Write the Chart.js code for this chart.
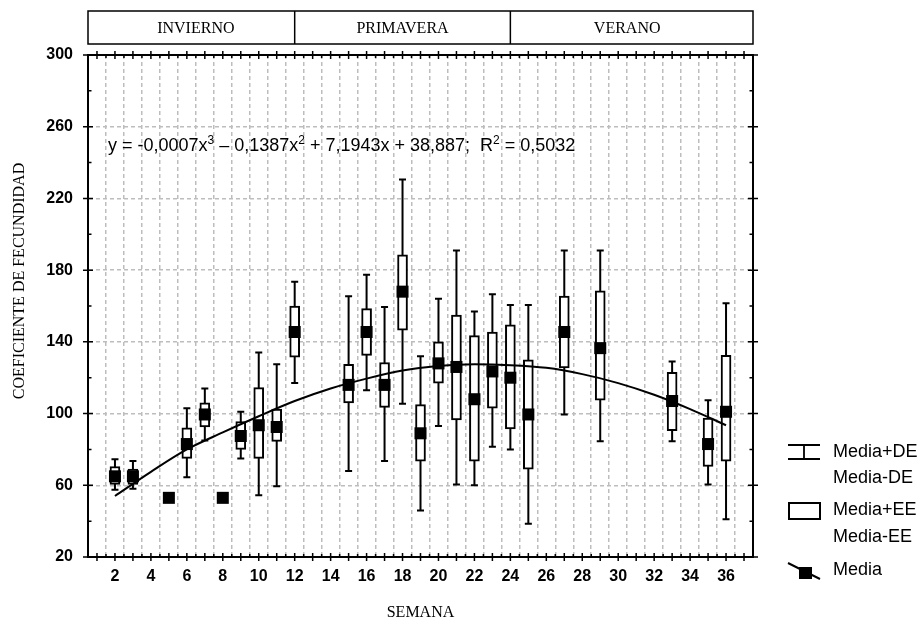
<!DOCTYPE html>
<html>
<head>
<meta charset="utf-8">
<script src="https://cdn.jsdelivr.net/npm/chart.js@4.4.1/dist/chart.umd.min.js"></script>
<style>
  html, body { margin: 0; padding: 0; background: #fff; }
</style>
</head>
<body>
<canvas id="fecChart" width="918" height="628"></canvas>
<script>
// semanas con dato
const weeks = [2, 3, 5, 6, 7, 8, 9, 10, 11, 12, 15, 16, 17, 18, 19, 20, 21, 22, 23, 24, 25, 27, 29, 33, 35, 36];
const means = [65, 65, 53, 83, 99.5, 53, 87.5, 93.5, 92.5, 145.5, 116, 145.5, 116, 168, 89, 128, 126, 108, 123.5, 120, 99.5, 145.5, 136.5, 107, 83, 101];
// Media +/- EE (caja)
const eeHigh = [70.5, 69, null, 92, 106, null, 95.5, 114.5, 102.5, 160, 127.5, 158.5, 128.5, 188.5, 105, 140, 155, 143.5, 145.5, 149.5, 130, 165.5, 168.5, 123, 97.5, 132.5];
const eeLow = [60.5, 60.5, null, 75, 92.5, null, 80, 75, 84.5, 131.5, 106, 132.5, 103.5, 146.5, 73.5, 117, 96.5, 73.5, 103, 91.5, 69, 125.5, 107.5, 90.5, 70.5, 73.5];
// Media +/- DE (bigotes)
const deHigh = [74.5, 73.5, null, 103, 114, null, 101, 134, 127.5, 173.5, 165.5, 177.5, 159.5, 230.5, 132, 164, 191, 157, 166.5, 160.5, 160.5, 191, 191, 129, 107.5, 161.5];
const deLow = [57.5, 58, null, 64.5, 85, null, 75, 54.5, 59.5, 117, 68, 113, 73.5, 105.5, 46, 93, 60.5, 60, 81.5, 80, 38.5, 99.5, 84.5, 84.5, 60.5, 41];
// curva de tendencia
const trendWeeks = [2, 4, 6, 8, 10, 12, 14, 16, 18, 20, 22, 24, 26, 28, 30, 32, 34, 36];
const trendValues = [54, 67.5, 80, 89.5, 98.5, 107, 114, 119.5, 124, 126.5, 127.5, 127, 125.5, 122, 117, 110.5, 102.5, 93.5];

const seasons = ['INVIERNO', 'PRIMAVERA', 'VERANO'];
const seasonBounds = [1, 12, 24, 37];
const legendItems = [['Media+DE', 'Media-DE'], ['Media+EE', 'Media-EE'], ['Media']];

const sansFont = '"Liberation Sans", Arial, sans-serif';
const serifFont = '"Liberation Serif", "Times New Roman", serif';
const gridGrey = '#bdbdbd';

const whiskerPlugin = {
  id: 'whiskers',
  beforeDatasetsDraw(chart) {
    const {ctx, scales: {x, y}} = chart;
    ctx.save();
    ctx.strokeStyle = '#000';
    ctx.lineWidth = 2;
    weeks.forEach((w, i) => {
      if (deHigh[i] == null) return;
      const px = x.getPixelForValue(w);
      const top = y.getPixelForValue(deHigh[i]);
      const bot = y.getPixelForValue(deLow[i]);
      ctx.beginPath();
      ctx.moveTo(px, top); ctx.lineTo(px, bot);
      ctx.moveTo(px - 3.5, top); ctx.lineTo(px + 3.5, top);
      ctx.moveTo(px - 3.5, bot); ctx.lineTo(px + 3.5, bot);
      ctx.stroke();
    });
    ctx.restore();
  }
};

// marcas cruzadas en los cuatro ejes
const axisTicksPlugin = {
  id: 'axisTicks',
  afterDatasetsDraw(chart) {
    const {ctx, chartArea: a, scales: {x, y}} = chart;
    ctx.save();
    ctx.strokeStyle = '#000';
    ctx.lineWidth = 1.5;
    ctx.beginPath();
    for (let w = x.min; w <= x.max; w += 0.5) {
      const px = x.getPixelForValue(w);
      if (Number.isInteger(w)) {
        ctx.moveTo(px, a.top - 4); ctx.lineTo(px, a.top + 4);
        ctx.moveTo(px, a.bottom - 4); ctx.lineTo(px, a.bottom + 4);
      } else {
        ctx.moveTo(px, a.top); ctx.lineTo(px, a.top + 3);
        ctx.moveTo(px, a.bottom); ctx.lineTo(px, a.bottom - 3);
      }
    }
    y.ticks.forEach(t => {
      const py = y.getPixelForValue(t.value);
      if ((t.value - 20) % 40 === 0) {
        ctx.moveTo(a.left - 5, py); ctx.lineTo(a.left + 5, py);
        ctx.moveTo(a.right - 5, py); ctx.lineTo(a.right + 5, py);
      } else {
        ctx.moveTo(a.left, py); ctx.lineTo(a.left + 3.5, py);
        ctx.moveTo(a.right, py); ctx.lineTo(a.right - 3.5, py);
      }
    });
    ctx.stroke();
    ctx.restore();
  }
};

const decorPlugin = {
  id: 'decor',
  afterDraw(chart) {
    const {ctx, chartArea: a, scales: {x}} = chart;
    ctx.save();

    // cabecera de estaciones
    const boxTop = 11, boxBottom = 44;
    ctx.strokeStyle = '#000';
    ctx.lineWidth = 1.5;
    ctx.strokeRect(a.left, boxTop, a.right - a.left, boxBottom - boxTop);
    ctx.fillStyle = '#000';
    ctx.font = '16px ' + serifFont;
    ctx.textAlign = 'center';
    ctx.textBaseline = 'middle';
    seasons.forEach((s, i) => {
      const x0 = x.getPixelForValue(seasonBounds[i]);
      const x1 = x.getPixelForValue(seasonBounds[i + 1]);
      if (i > 0) {
        ctx.beginPath();
        ctx.moveTo(x0, boxTop); ctx.lineTo(x0, boxBottom);
        ctx.stroke();
      }
      ctx.fillText(s, (x0 + x1) / 2, (boxTop + boxBottom) / 2 + 1);
    });

    // titulo eje Y
    ctx.save();
    ctx.translate(20, 281);
    ctx.rotate(-Math.PI / 2);
    ctx.fillText('COEFICIENTE DE FECUNDIDAD', 0, 0);
    ctx.restore();

    // ecuacion
    const parts = [
      ['y = -0,0007x', false], ['3', true], [' \u2013 0,1387x', false], ['2', true],
      [' + 7,1943x + 38,887;  R', false], ['2', true], [' = 0,5032', false]
    ];
    ctx.textAlign = 'left';
    ctx.textBaseline = 'alphabetic';
    let ex = 108;
    const ey = 151;
    parts.forEach(([txt, sup]) => {
      ctx.font = (sup ? '12px ' : '18px ') + sansFont;
      ctx.fillText(txt, ex, sup ? ey - 7 : ey);
      ex += ctx.measureText(txt).width;
    });

    // leyenda
    ctx.lineWidth = 1.8;
    ctx.beginPath();
    ctx.moveTo(788, 445); ctx.lineTo(820, 445);
    ctx.moveTo(788, 459); ctx.lineTo(820, 459);
    ctx.moveTo(804, 445); ctx.lineTo(804, 459);
    ctx.stroke();
    ctx.lineWidth = 2;
    ctx.strokeRect(789, 503, 31, 16);
    ctx.beginPath();
    ctx.moveTo(788, 563); ctx.lineTo(820, 579);
    ctx.stroke();
    ctx.fillRect(799, 567, 13, 12);

    ctx.font = '18px ' + sansFont;
    ctx.textBaseline = 'middle';
    const rows = [[452, 478], [510, 537], [570]];
    legendItems.forEach((lines, i) => {
      lines.forEach((t, j) => ctx.fillText(t, 833, rows[i][j]));
    });
    ctx.restore();
  }
};

new Chart(document.getElementById('fecChart'), {
  type: 'bar',
  data: {
    datasets: [
      {
        type: 'scatter',
        label: 'Media',
        data: weeks.map((w, i) => ({x: w, y: means[i]})),
        pointStyle: 'rect',
        pointRadius: 8.5,
        backgroundColor: '#000',
        borderWidth: 0,
        order: 0
      },
      {
        type: 'line',
        label: 'Tendencia',
        data: trendWeeks.map((w, i) => ({x: w, y: trendValues[i]})),
        borderColor: '#000',
        borderWidth: 2,
        pointRadius: 0,
        cubicInterpolationMode: 'monotone',
        fill: false,
        order: 1
      },
      {
        type: 'bar',
        label: 'Media +/- EE',
        data: weeks.map((w, i) => ({x: w, y: eeHigh[i] == null ? null : [eeLow[i], eeHigh[i]]})),
        backgroundColor: '#fff',
        borderColor: '#000',
        borderWidth: 2,
        borderSkipped: false,
        barThickness: 10,
        order: 2
      }
    ]
  },
  options: {
    responsive: false,
    animation: false,
    events: [],
    layout: { padding: 0 },
    plugins: {
      legend: { display: false },
      tooltip: { enabled: false }
    },
    scales: {
      x: {
        type: 'linear',
        position: 'bottom',
        min: 1,
        max: 37,
        afterFit: s => { s.height = 71; },
        ticks: {
          stepSize: 1,
          autoSkip: false,
          maxRotation: 0,
          padding: 10,
          color: '#000',
          font: { family: sansFont, size: 16, weight: 'bold' },
          callback: v => (v % 2 === 0 && v >= 2 && v <= 36) ? String(v) : ''
        },
        grid: { color: gridGrey, lineWidth: 1.5, drawTicks: false },
        border: { color: '#000', width: 2, dash: [4, 3] },
        title: {
          display: true,
          text: 'SEMANA',
          color: '#000',
          font: { family: serifFont, size: 16 },
          padding: { top: 0, bottom: 6 }
        }
      },
      x2: {
        type: 'linear',
        position: 'top',
        min: 1,
        max: 37,
        afterFit: s => { s.height = 55; },
        ticks: { display: false },
        grid: { drawOnChartArea: false, drawTicks: false },
        border: { color: '#000', width: 2 }
      },
      y: {
        type: 'linear',
        position: 'left',
        min: 20,
        max: 300,
        afterFit: s => { s.width = 88; },
        ticks: {
          stepSize: 20,
          padding: 15,
          color: '#000',
          font: { family: sansFont, size: 16, weight: 'bold' },
          callback: v => ((v - 20) % 40 === 0) ? String(v) : ''
        },
        grid: {
          color: c => (c.tick && (c.tick.value - 20) % 40 === 0 && c.tick.value > 20 && c.tick.value < 300) ? gridGrey : 'rgba(0,0,0,0)',
          lineWidth: 1.5,
          drawTicks: false
        },
        border: { color: '#000', width: 2, dash: [4, 3] }
      },
      y2: {
        type: 'linear',
        position: 'right',
        min: 20,
        max: 300,
        afterFit: s => { s.width = 165; },
        ticks: { display: false },
        grid: { drawOnChartArea: false, drawTicks: false },
        border: { color: '#000', width: 2 }
      }
    }
  },
  plugins: [whiskerPlugin, axisTicksPlugin, decorPlugin]
});
</script>
</body>
</html>
